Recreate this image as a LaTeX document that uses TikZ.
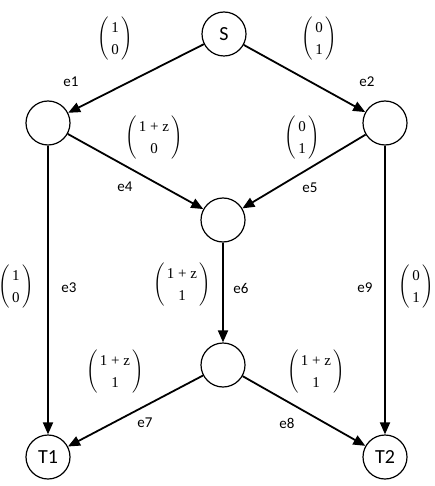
\documentclass[tikz,border=0pt]{standalone}
\usepackage{amsmath}
\usepackage{fontspec}
\setmainfont{Carlito}
\newfontfamily\vecfont{Liberation Serif}
\usetikzlibrary{arrows.meta,positioning}
\tikzstyle{vertex} = [circle, minimum size=44pt, inner sep=0pt, draw=black, line width=1.2pt, font=\fontsize{20}{22}\selectfont]
\tikzstyle{edge} = [-{Triangle[length=12pt,width=10pt]}, line width=1.8pt]
\tikzstyle{elabel} = [font=\fontsize{15}{17}\selectfont, inner sep=0pt]
\tikzstyle{coef} = [font=\fontsize{15}{17}\selectfont, inner sep=0pt]
\newcommand{\gvec}[2]{$\renewcommand{\arraystretch}{1.3}\left(\begin{array}{@{\,}c@{\,}}\text{\vecfont #1}\\ \text{\vecfont #2}\end{array}\right)$}

\begin{document}
\begin{tikzpicture}[x=1pt, y=-1pt]
	\useasboundingbox (0,0) rectangle (434,486);
	
	\node[vertex] (s) at (224,34) {S};
	\node[vertex] (left) at (48,123) {};
	\node[vertex] (right) at (385,123) {};
	\node[vertex] (mid) at (223,220) {};
	\node[vertex] (low) at (223,365) {};
	\node[vertex] (t1) at (48,457) {T1};
	\node[vertex] (t2) at (385,457) {T2};
	
	%arrow
	\draw [edge] (s) -- (left);
	\draw [edge] (s) -- (right);
	\draw [edge] (left) -- (t1);
	\draw [edge] (left) -- (mid);
	\draw [edge] (right) -- (mid);
	\draw [edge] (right) -- (t2);
	\draw [edge] (mid) -- (low);
	\draw [edge] (low) -- (t1);
	\draw [edge] (low) -- (t2);
	
	%edge names
	\node[elabel] (n1) at (71,82) {e1};
	\node[elabel] (n2) at (367,82) {e2};
	\node[elabel] (n3) at (69,288) {e3};
	\node[elabel] (n4) at (125,187) {e4};
	\node[elabel] (n5) at (310,188) {e5};
	\node[elabel] (n6) at (241,288) {e6};
	\node[elabel] (n7) at (145,423) {e7};
	\node[elabel] (n8) at (287,423) {e8};
	\node[elabel] (n9) at (365,288) {e9};
	
	%coefficients
	\node[coef] (c1) at (115,39) {\gvec{1}{0}};
	\node[coef] (c2) at (319,39) {\gvec{0}{1}};
	\node[coef] (c3) at (16,287) {\gvec{1}{0}};
	\node[coef] (c4) at (154,138) {\gvec{1 + z}{0}};
	\node[coef] (c5) at (302,138) {\gvec{0}{1}};
	\node[coef] (c6) at (182,285) {\gvec{1 + z}{1}};
	\node[coef] (c7) at (115,372) {\gvec{1 + z}{1}};
	\node[coef] (c8) at (316,372) {\gvec{1 + z}{1}};
	\node[coef] (c9) at (416,287) {\gvec{0}{1}};
\end{tikzpicture}
\end{document}
